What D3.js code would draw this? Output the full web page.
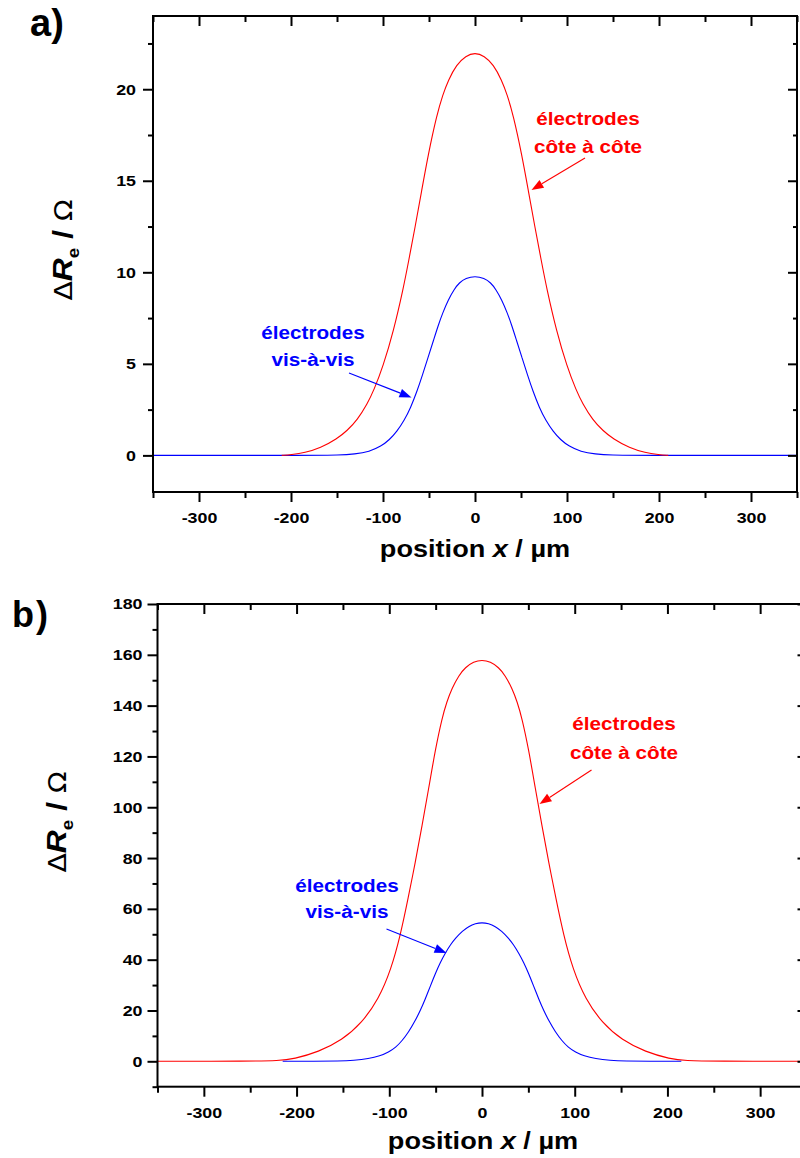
<!DOCTYPE html>
<html>
<head>
<meta charset="utf-8">
<script src="https://cdn.jsdelivr.net/npm/d3@7"></script>
<style>
  body { margin: 0; background: #fff; }
  svg { display: block; font-family: "Liberation Sans", Arial, sans-serif; }
</style>
</head>
<body>
<svg id="chart" width="800" height="1158"></svg>
<script>
// ---------- data ----------
const xMajorTicks = [-300, -200, -100, 0, 100, 200, 300];
const xMinorTicks = [-350, -250, -150, -50, 50, 150, 250, 350];
const yMajorTicksA = [0, 5, 10, 15, 20];
const yMinorTicksA = [2.5, 7.5, 12.5, 17.5, 22.5];
const yMajorTicksB = [0, 20, 40, 60, 80, 100, 120, 140, 160, 180];
const yMinorTicksB = [-10, 10, 30, 50, 70, 90, 110, 130, 150, 170];

// panel a: côte à côte (red)
const redAx = [-210, -200, -185, -168, -150, -139, -128, -117, -110, -100, -88.5, -78, -72, -65, -58, -51, -41.5, -35, -29, -20, -10, 0,
               10, 20, 29, 35, 41.5, 51, 58, 65, 72, 78, 88.5, 100, 110, 117, 128, 139, 150, 168, 185, 200, 210];
const redAy = [0, 0.04, 0.14, 0.4, 0.9, 1.35, 1.93, 2.82, 3.55, 4.85, 6.8, 9.1, 10.65, 12.5, 14.45, 16.4, 18.6, 19.7, 20.5, 21.35, 21.83, 22.0,
               21.83, 21.35, 20.5, 19.7, 18.6, 16.4, 14.45, 12.5, 10.65, 9.1, 6.8, 4.85, 3.55, 2.82, 1.93, 1.35, 0.9, 0.4, 0.14, 0.04, 0];
// panel a: vis-à-vis (blue)
const blueAx = [-350, -170, -150, -130, -115, -102, -93, -85, -77, -70, -63, -57, -51, -45, -40, -35, -29, -23, -17, -10, 0,
                10, 17, 23, 29, 35, 40, 45, 51, 57, 63, 70, 77, 85, 93, 102, 115, 130, 150, 170, 350];
const blueAy = [0, 0, 0.01, 0.07, 0.2, 0.5, 0.85, 1.3, 1.9, 2.6, 3.5, 4.4, 5.35, 6.3, 7.1, 7.8, 8.5, 9.05, 9.44, 9.68, 9.8,
                9.68, 9.44, 9.05, 8.5, 7.8, 7.1, 6.3, 5.35, 4.4, 3.5, 2.6, 1.9, 1.3, 0.85, 0.5, 0.2, 0.07, 0.01, 0, 0];

// panel b: côte à côte (red)
const redBx = [-350, -250, -219.5, -203, -176.3, -151.1, -129.6, -111.6, -98, -88, -79.5, -72, -64.7, -57.6, -50.3, -43.1, -38, -32.3, -25, -18, -9, 0,
               9, 18, 25, 32.3, 38, 43.1, 50.3, 57.6, 64.7, 72, 79.5, 88, 98, 111.6, 129.6, 151.1, 176.3, 203, 219.5, 250, 350];
const redBy = [0, 0.05, 0.25, 0.9, 3.7, 8.3, 15.1, 24.4, 36.2, 49.6, 64.5, 78.2, 92.6, 107.2, 122.8, 135.1, 141.5, 146.9, 151.9, 155.05, 157.3, 158,
               157.3, 155.05, 151.9, 146.9, 141.5, 135.1, 122.8, 107.2, 92.6, 78.2, 64.5, 49.6, 36.2, 24.4, 15.1, 8.3, 3.7, 0.9, 0.25, 0.05, 0];
// panel b: vis-à-vis (blue)
const blueBx = [-215, -180, -154.75, -138, -122.35, -110, -100.75, -93, -86.35, -79, -72, -66.5, -61.2, -55.5, -50.35, -45, -39.6, -34, -28.75, -21, -14.4, -7, 0,
                7, 14.4, 21, 28.75, 34, 39.6, 45, 50.35, 55.5, 61.2, 66.5, 72, 79, 86.35, 93, 100.75, 110, 122.35, 138, 154.75, 180, 215];
const blueBy = [0, 0.02, 0.1, 0.35, 1.0, 2.1, 3.6, 5.5, 8.0, 11.6, 16.0, 20.0, 24.5, 29.8, 34.5, 38.9, 42.6, 45.9, 48.4, 51.3, 53.1, 54.25, 54.6,
                54.25, 53.1, 51.3, 48.4, 45.9, 42.6, 38.9, 34.5, 29.8, 24.5, 20.0, 16.0, 11.6, 8.0, 5.5, 3.6, 2.1, 1.0, 0.35, 0.1, 0.02, 0];

const labelTop = "électrodes";
const labelRed = "côte à côte";
const labelBlue = "vis-à-vis";
const xTitle = "position ";

// ---------- drawing ----------
const svg = d3.select("#chart");
const RED = "#ff0000", BLUE = "#0000ff";
const TICK_SX = 1.15, TITLE_SX = 1.13, NOTE_SX = 1.09;

function zip(xs, ys) { return xs.map((x, i) => ({x, y: ys[i]})); }

function panel(cfg) {
  const g = svg.append("g");
  const x = d3.scaleLinear().domain([-350, 350]).range([cfg.left, cfg.right]);
  const y = d3.scaleLinear().domain(cfg.yDomain).range([cfg.bottom, cfg.top]);

  const clipId = "clip" + cfg.id;
  svg.append("defs").append("clipPath").attr("id", clipId)
    .append("rect").attr("x", cfg.left).attr("y", cfg.top)
    .attr("width", cfg.right - cfg.left).attr("height", cfg.bottom - cfg.top);

  const line = d3.line().x(d => x(d.x)).y(d => y(d.y)).curve(d3.curveBasis);
  const lines = g.append("g").attr("clip-path", `url(#${clipId})`);
  cfg.series.forEach(s => {
    lines.append("path").datum(zip(s.x, s.y))
      .attr("d", line).attr("fill", "none")
      .attr("stroke", s.color).attr("stroke-width", 1.1);
  });

  const tickStyle = sel => {
    sel.select(".domain").remove();
    sel.selectAll("line").attr("stroke", "#000").attr("stroke-width", 2);
    sel.selectAll("text").attr("font-size", 15.5).attr("font-weight", "bold").attr("fill", "#000");
  };

  // bottom axis
  g.append("g").attr("transform", `translate(0,${cfg.bottom})`)
    .call(d3.axisBottom(x).tickValues(xMajorTicks).tickSize(10).tickPadding(10).tickFormat(d => String(d)))
    .call(tickStyle)
    .call(s => s.selectAll("text").attr("transform", `scale(${TICK_SX},1)`));
  g.append("g").attr("transform", `translate(0,${cfg.bottom})`)
    .call(d3.axisBottom(x).tickValues(xMinorTicks).tickSize(6).tickFormat(""))
    .call(tickStyle);
  // top axis (inward)
  g.append("g").attr("transform", `translate(0,${cfg.top})`)
    .call(d3.axisBottom(x).tickValues(xMajorTicks).tickSize(10).tickFormat(""))
    .call(tickStyle);
  g.append("g").attr("transform", `translate(0,${cfg.top})`)
    .call(d3.axisBottom(x).tickValues(xMinorTicks).tickSize(6).tickFormat(""))
    .call(tickStyle);
  // left axis
  g.append("g").attr("transform", `translate(${cfg.left},0)`)
    .call(d3.axisLeft(y).tickValues(cfg.yMajor).tickSize(10).tickPadding(cfg.yPad).tickFormat(d => String(d)))
    .call(tickStyle)
    .call(s => s.selectAll("text")
      .attr("x", -(10 + cfg.yPad) / TICK_SX)
      .attr("transform", `scale(${TICK_SX},1)`));
  g.append("g").attr("transform", `translate(${cfg.left},0)`)
    .call(d3.axisLeft(y).tickValues(cfg.yMinor).tickSize(5).tickFormat(""))
    .call(tickStyle);
  // right axis (inward)
  g.append("g").attr("transform", `translate(${cfg.right},0)`)
    .call(d3.axisLeft(y).tickValues(cfg.yMajor).tickSize(9).tickFormat(""))
    .call(tickStyle);
  g.append("g").attr("transform", `translate(${cfg.right},0)`)
    .call(d3.axisLeft(y).tickValues(cfg.yMinor).tickSize(4).tickFormat(""))
    .call(tickStyle);

  // frame
  g.append("rect").attr("x", cfg.left).attr("y", cfg.top)
    .attr("width", cfg.right - cfg.left).attr("height", cfg.bottom - cfg.top)
    .attr("fill", "none").attr("stroke", "#000").attr("stroke-width", 2);

  // x title
  const xt = g.append("text")
    .attr("transform", `translate(${cfg.xTitleX},${cfg.xTitleY}) scale(${TITLE_SX},1)`)
    .attr("text-anchor", "middle").attr("font-size", 24).attr("font-weight", "bold");
  xt.append("tspan").text(xTitle);
  xt.append("tspan").attr("font-style", "italic").text("x");
  xt.append("tspan").text(" / µm");

  // y title
  const yt = g.append("text")
    .attr("transform", `translate(${cfg.yTitleX},${cfg.yTitleY}) rotate(-90) scale(1.18,1)`)
    .attr("text-anchor", "middle").attr("font-size", 27);
  yt.append("tspan").attr("font-family", "DejaVu Sans").attr("font-size", 24).text("Δ");
  yt.append("tspan").attr("font-weight", "bold").attr("font-style", "italic").text("R");
  yt.append("tspan").attr("font-weight", "bold").attr("font-size", 16).attr("dy", 7).text("e");
  yt.append("tspan").attr("font-weight", "bold").attr("dy", -7).text(" / ");
  yt.append("tspan").attr("font-family", "DejaVu Sans").attr("font-size", 24).text("Ω");

  // panel label
  g.append("text").attr("x", cfg.tagX).attr("y", cfg.tagY)
    .attr("font-size", cfg.tagSize).attr("font-weight", "bold")
    .attr("letter-spacing", cfg.tagSpacing).text(cfg.tag);

  // annotations
  cfg.notes.forEach(n => {
    [[n.y1, labelTop], [n.y2, n.text]].forEach(([ty, str]) => {
      g.append("text").attr("text-anchor", "middle")
        .attr("transform", `translate(${n.cx},${ty}) scale(${NOTE_SX},1)`)
        .attr("font-size", 19).attr("font-weight", "bold").attr("fill", n.color)
        .text(str);
    });
    // arrow
    const [x0, y0] = n.from, [x1, y1] = n.to;
    const ang = Math.atan2(y1 - y0, x1 - x0);
    const L = 12, W = 4.5;
    const bx = x1 - L * Math.cos(ang), by = y1 - L * Math.sin(ang);
    g.append("line").attr("x1", x0).attr("y1", y0).attr("x2", bx).attr("y2", by)
      .attr("stroke", n.color).attr("stroke-width", 1.1);
    const px = -Math.sin(ang) * W, py = Math.cos(ang) * W;
    g.append("path")
      .attr("d", `M${x1},${y1}L${bx + px},${by + py}L${bx - px},${by - py}Z`)
      .attr("fill", n.color);
  });
}

panel({
  id: "a", left: 153, right: 797, top: 16, bottom: 492,
  yDomain: [-2, 24], yMajor: yMajorTicksA, yMinor: yMinorTicksA, yPad: 7,
  series: [
    {x: blueAx, y: blueAy, color: BLUE},
    {x: redAx, y: redAy, color: RED}
  ],
  xTitleX: 475, xTitleY: 557, yTitleX: 72, yTitleY: 250,
  tag: "a)", tagX: 30, tagY: 36, tagSize: 38, tagSpacing: 0,
  notes: [
    {color: RED, cx: 588, y1: 125, y2: 153, text: labelRed, from: [585, 158], to: [531.5, 190]},
    {color: BLUE, cx: 313, y1: 339, y2: 366, text: labelBlue, from: [349, 373], to: [411.5, 397.5]}
  ]
});

panel({
  id: "b", left: 157.5, right: 806.5, top: 604, bottom: 1086.7,
  yDomain: [-10, 180], yMajor: yMajorTicksB, yMinor: yMinorTicksB, yPad: 5,
  series: [
    {x: redBx, y: redBy, color: RED},
    {x: blueBx, y: blueBy, color: BLUE}
  ],
  xTitleX: 483, xTitleY: 1149, yTitleX: 66, yTitleY: 822,
  tag: "b)", tagX: 12, tagY: 627, tagSize: 36, tagSpacing: 2,
  notes: [
    {color: RED, cx: 624, y1: 730, y2: 759, text: labelRed, from: [591.5, 770], to: [539.5, 804]},
    {color: BLUE, cx: 347, y1: 891.5, y2: 918, text: labelBlue, from: [386.5, 929], to: [446.5, 953]}
  ]
});
</script>
</body>
</html>
